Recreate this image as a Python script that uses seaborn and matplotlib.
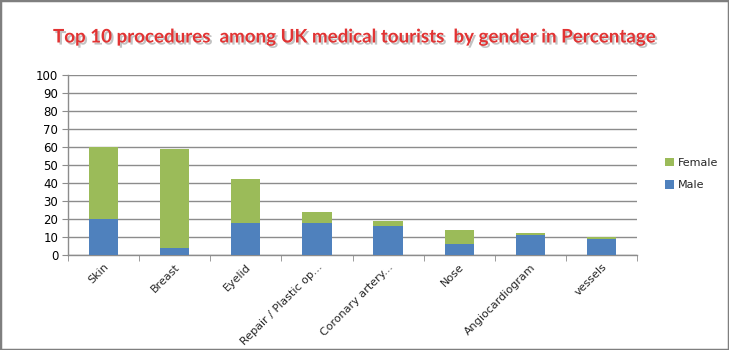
import matplotlib
matplotlib.use("Agg")
import matplotlib.pyplot as plt
import matplotlib.patheffects as pe
from matplotlib.patches import Rectangle
from matplotlib.ticker import FixedLocator, MultipleLocator
import seaborn as sns
import pandas as pd
import numpy as np

procedures = ["Skin", "Breast", "Eyelid", "Repair / Plastic op...", "Coronary artery...",
              "Nose", "Angiocardiogram", "vessels"]
male = [20, 4, 18, 18, 16, 6, 11, 9]
female = [40, 55, 24, 6, 3, 8, 1, 1]

blue = "#4F81BD"
green = "#9BBB59"

sns.set_style("white")
plt.rcParams["font.family"] = ["DejaVu Sans"]

df = pd.DataFrame({"procedure": procedures, "Male": male, "Female": female})
df["Total"] = df["Male"] + df["Female"]

fig = plt.figure(figsize=(7.29, 3.5), dpi=100)
ax = fig.add_axes([68 / 729, 1 - 255 / 350, (637 - 68) / 729, (255 - 75) / 350])

# stacked bars: total (female on top) drawn first, male segment over it
sns.barplot(data=df, x="procedure", y="Total", color=green, width=0.41,
            saturation=1, ax=ax, label="Female", zorder=3, linewidth=0)
sns.barplot(data=df, x="procedure", y="Male", color=blue, width=0.41,
            saturation=1, ax=ax, label="Male", zorder=4, linewidth=0)

ax.set_ylim(0, 100)
ax.set_xlim(-0.5, len(procedures) - 0.5)
ax.yaxis.set_major_locator(MultipleLocator(10))
ax.grid(axis="y", color="#8c8c8c", linewidth=1, zorder=0)
ax.set_axisbelow(True)
ax.set_xlabel("")
ax.set_ylabel("")

for side in ["top", "right"]:
    ax.spines[side].set_visible(False)
for side in ["left", "bottom"]:
    ax.spines[side].set_color("#8c8c8c")
    ax.spines[side].set_linewidth(1)

ax.tick_params(axis="y", which="major", length=4, color="#8c8c8c", labelsize=8.5,
               left=True, pad=3, labelcolor="#000000")
ax.tick_params(axis="x", which="major", length=0, labelsize=8, pad=5)
ax.xaxis.set_minor_locator(FixedLocator(np.arange(-0.5, len(procedures), 1.0)))
ax.tick_params(axis="x", which="minor", length=4, color="#8c8c8c", bottom=True)
plt.setp(ax.get_xticklabels(), rotation=45, ha="right", rotation_mode="anchor")

handles, labels = ax.get_legend_handles_labels()
order = [labels.index("Female"), labels.index("Male")]
leg = ax.legend([handles[i] for i in order], [labels[i] for i in order],
                loc="center left", bbox_to_anchor=(655 / 729, 1 - 174 / 350),
                bbox_transform=fig.transFigure, frameon=False, fontsize=8,
                handlelength=0.8, handleheight=0.8, handletextpad=0.4,
                labelspacing=1.1)

fig.text(354 / 729, 1 - 37 / 350,
         "Top 10 procedures  among UK medical tourists  by gender in Percentage",
         ha="center", va="center", fontsize=13.5, fontweight="bold",
         family=["Lato", "DejaVu Sans"], color="#E23333",
         path_effects=[pe.withSimplePatchShadow(offset=(1.5, -1.5),
                                                shadow_rgbFace="#9a9a9a", alpha=0.6)])

fig.patches.append(Rectangle((0, 0), 1, 1, transform=fig.transFigure, fill=False,
                             edgecolor="#7f7f7f", linewidth=2.5))

fig.savefig("out.png", dpi=100)
